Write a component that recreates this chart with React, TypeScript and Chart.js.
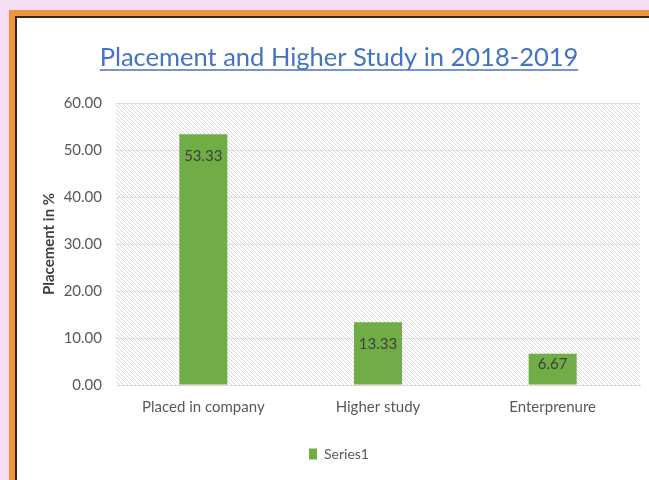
import React, { useEffect, useRef } from "react";
import { Chart, registerables } from "chart.js";

Chart.register(...registerables);

const categories = ["Placed in company", "Higher study", "Enterprenure"];
const values = [53.33, 13.33, 6.67];
const seriesName = "Series1";
const titleText = "Placement and Higher Study in 2018-2019";
const yAxisTitle = "Placement in %";
const yMin = 0;
const yMax = 60;
const yStep = 10;

const FONT = "Lato, 'Open Sans', sans-serif";
const GREEN = "#70ad47";
const TITLE_BLUE = "#4472c4";
const GREY_TEXT = "#595959";
const TITLE_SIZE = 25.5;
const TITLE_PAD_TOP = 24;

function makePattern(): CanvasPattern | string {
  const c = document.createElement("canvas");
  c.width = 8;
  c.height = 8;
  const g = c.getContext("2d");
  if (!g) return "#eeeeee";
  g.fillStyle = "#ffffff";
  g.fillRect(0, 0, 8, 8);
  g.strokeStyle = "#d8d8d8";
  g.lineWidth = 1;
  g.beginPath();
  for (let k = -8; k <= 8; k += 4) {
    g.moveTo(k, 0);
    g.lineTo(k + 8, 8);
  }
  g.stroke();
  g.fillStyle = "#e0e0e0";
  g.fillRect(1, 1, 1, 1);
  g.fillRect(5, 5, 1, 1);
  const p = g.createPattern(c, "repeat");
  return p || "#eeeeee";
}

const plotBgPlugin = {
  id: "plotBg",
  beforeDraw(chart: any) {
    const { ctx, chartArea } = chart;
    if (!chartArea) return;
    ctx.save();
    ctx.fillStyle = makePattern();
    ctx.fillRect(chartArea.left, chartArea.top, chartArea.right - chartArea.left, chartArea.bottom - chartArea.top);
    ctx.restore();
  },
};

const dataLabelPlugin = {
  id: "dataLabels",
  afterDatasetsDraw(chart: any) {
    const { ctx } = chart;
    const meta = chart.getDatasetMeta(0);
    ctx.save();
    ctx.font = `15px ${FONT}`;
    ctx.fillStyle = "#404040";
    ctx.textAlign = "center";
    ctx.textBaseline = "middle";
    meta.data.forEach((el: any, i: number) => {
      const v = chart.data.datasets[0].data[i] as number;
      const h = el.base - el.y;
      const off = Math.min(22, h / 2 - 5);
      ctx.fillText(v.toFixed(2), el.x, el.y + off);
    });
    ctx.restore();
  },
};

const underlinePlugin = {
  id: "titleUnderline",
  afterDraw(chart: any) {
    const tb = chart.titleBlock;
    if (!tb) return;
    const { ctx } = chart;
    ctx.save();
    ctx.font = `${TITLE_SIZE}px ${FONT}`;
    const w = ctx.measureText(titleText).width;
    const cx = (tb.left + tb.right) / 2;
    const cy = tb.top + TITLE_PAD_TOP + (TITLE_SIZE * 1.2) / 2;
    const y = cy + TITLE_SIZE * 0.5;
    ctx.strokeStyle = TITLE_BLUE;
    ctx.lineWidth = 1.5;
    ctx.beginPath();
    ctx.moveTo(cx - w / 2, y);
    ctx.lineTo(cx + w / 2, y);
    ctx.stroke();
    ctx.restore();
  },
};

export default function App() {
  const ref = useRef<HTMLCanvasElement | null>(null);

  useEffect(() => {
    if (!ref.current) return;
    const chart = new Chart(ref.current, {
      type: "bar",
      data: {
        labels: categories,
        datasets: [
          {
            label: seriesName,
            data: values,
            backgroundColor: GREEN,
            borderWidth: 0,
            categoryPercentage: 1,
            barPercentage: 0.275,
          },
        ],
      },
      options: {
        animation: false,
        responsive: false,
        maintainAspectRatio: false,
        layout: { padding: { left: 21, right: 9, top: 0, bottom: 9 } },
        plugins: {
          title: {
            display: true,
            text: titleText,
            color: TITLE_BLUE,
            font: { family: FONT, size: TITLE_SIZE, weight: "normal" },
            padding: { top: TITLE_PAD_TOP, bottom: 30.4 },
          },
          legend: {
            position: "bottom",
            labels: {
              color: GREY_TEXT,
              font: { family: FONT, size: 14 },
              boxWidth: 8,
              boxHeight: 11,
              padding: 10,
            },
          },
          tooltip: { enabled: false },
        },
        scales: {
          x: {
            grid: { display: false, drawTicks: false },
            border: { display: true, color: "#d9d9d9" },
            ticks: { color: GREY_TEXT, font: { family: FONT, size: 15 }, padding: 13 },
            afterFit: (s: any) => {
              s.height = 52;
            },
          },
          y: {
            min: yMin,
            max: yMax,
            grid: { color: "#dedede", drawTicks: false },
            border: { display: false },
            ticks: {
              stepSize: yStep,
              color: GREY_TEXT,
              font: { family: FONT, size: 15 },
              padding: 14,
              callback: (v: any) => Number(v).toFixed(2),
            },
            title: {
              display: true,
              text: yAxisTitle,
              color: "#404040",
              font: { family: FONT, size: 15, weight: "bold" },
              padding: { top: 2, bottom: 4 },
            },
            afterFit: (s: any) => {
              s.width = 78;
            },
          },
        },
      },
      plugins: [plotBgPlugin, dataLabelPlugin, underlinePlugin],
    });
    return () => chart.destroy();
  }, []);

  return (
    <div
      style={{
        position: "absolute",
        left: 0,
        top: 0,
        width: 649,
        height: 480,
        background: "#f5def3",
        overflow: "hidden",
      }}
    >
      <div
        style={{
          position: "absolute",
          left: 9,
          top: 10,
          width: 649,
          height: 480,
          background: "#f0923e",
        }}
      />
      <div
        style={{
          position: "absolute",
          left: 15,
          top: 16,
          width: 649,
          height: 480,
          background: "#3a2418",
        }}
      />
      <div
        style={{
          position: "absolute",
          left: 17,
          top: 18,
          width: 632,
          height: 462,
          background: "#ffffff",
        }}
      >
        <canvas ref={ref} width={632} height={462} style={{ display: "block" }} />
      </div>
    </div>
  );
}
